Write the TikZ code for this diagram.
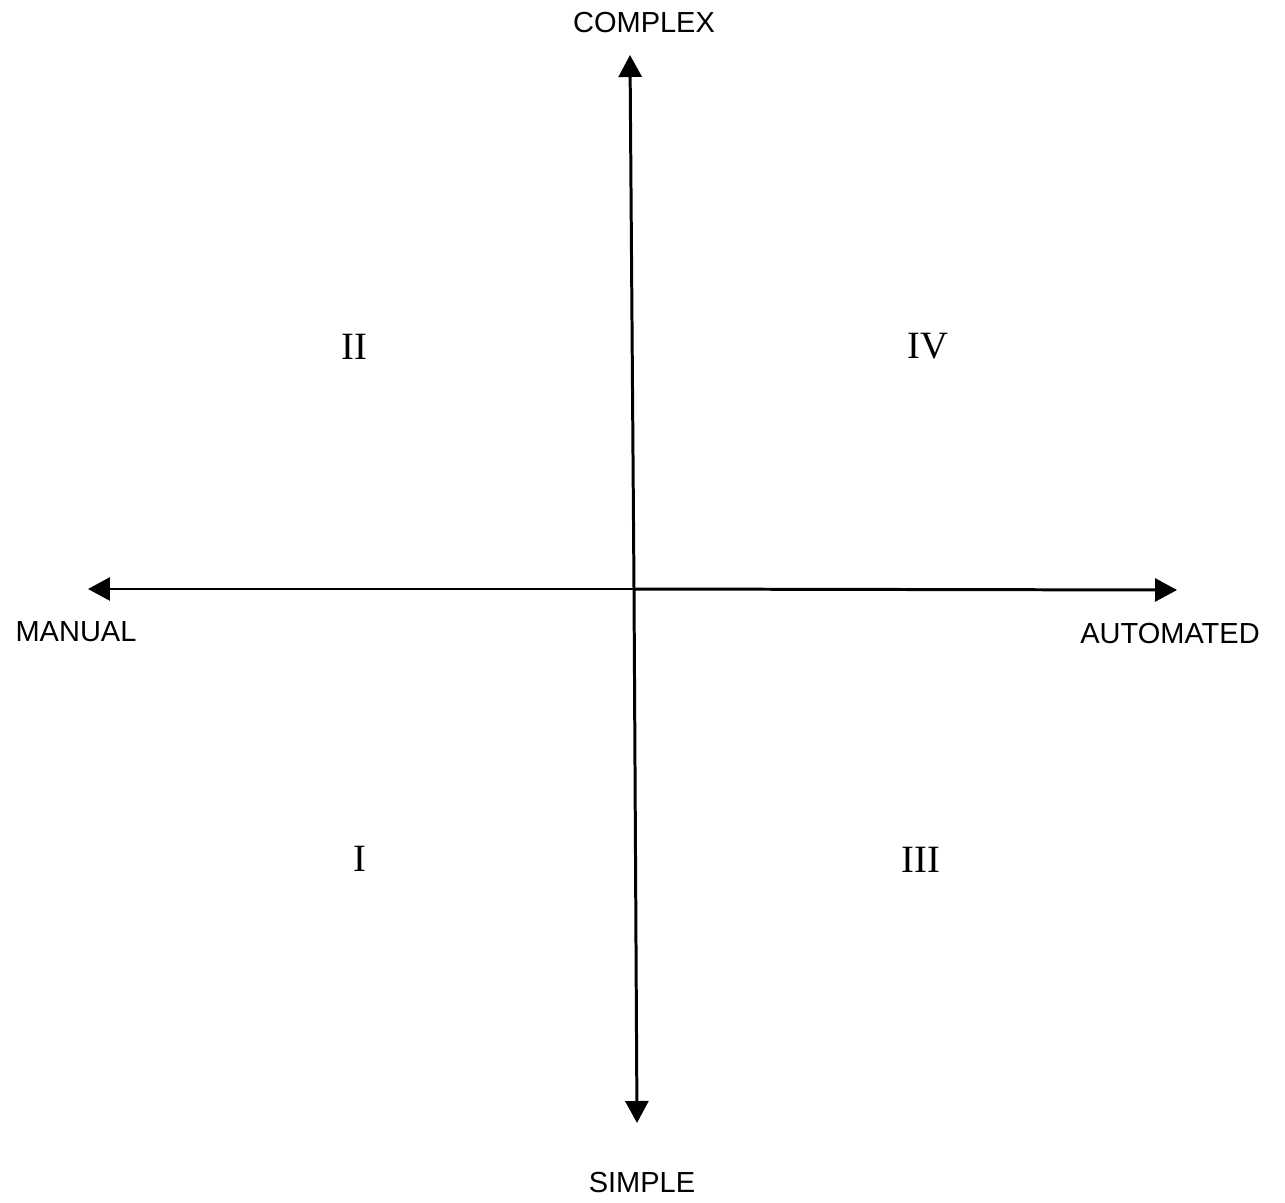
\documentclass[tikz,border=0pt]{standalone}
\usepackage{fontspec}
\setmainfont{Liberation Serif}
\newfontfamily\axisfont{Liberation Sans}
\usetikzlibrary{arrows.meta}
\begin{document}
\begin{tikzpicture}[x=0.02cm,y=-0.02cm,
  axisline/.style={line width=1.7pt,-{Triangle[length=0.44cm,width=0.46cm]}},
  axislabel/.style={font=\axisfont\fontsize{16.5}{18}\selectfont,inner sep=0pt},
  quad/.style={font=\fontsize{22}{24}\selectfont,inner sep=0pt}]
\useasboundingbox (0,0) rectangle (1285,1203);
\coordinate (ctr) at (634,589);
\coordinate (top) at (630,55);
\coordinate (bot) at (637,1123);
\coordinate (lft) at (88,589);
\coordinate (rgt) at (1177,590);
\draw[axisline] (ctr) -- (top);
\draw[axisline] (ctr) -- (bot);
\draw[axisline] (ctr) -- (lft);
\draw[axisline] (ctr) -- (rgt);
\node[axislabel] (complex) at (644,23) {COMPLEX};
\node[axislabel] (simple) at (642,1183) {SIMPLE};
\node[axislabel] (manual) at (76,632) {MANUAL};
\node[axislabel] (auto) at (1170,634) {AUTOMATED};
\node[quad] (q2) at (354,347) {II};
\node[quad] (q4) at (928,346) {IV};
\node[quad] (q1) at (360,859) {I};
\node[quad] (q3) at (921,860) {III};
\end{tikzpicture}
\end{document}
